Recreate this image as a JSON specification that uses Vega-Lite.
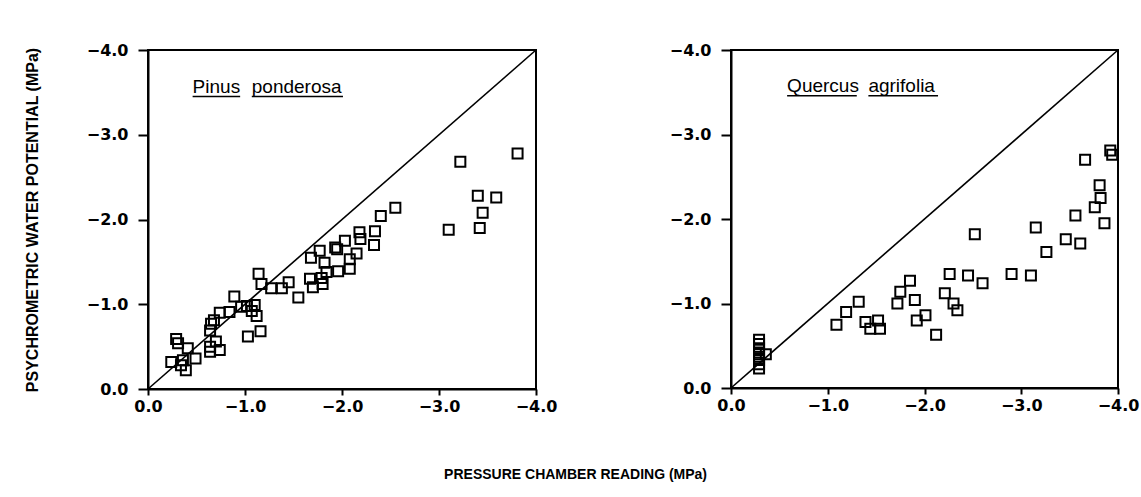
{
  "$schema": "https://vega.github.io/schema/vega-lite/v6.json",
  "background": "white",
  "padding": {"left": 23, "top": 41, "right": 0, "bottom": 5},
  "spacing": 110,
  "title": {"text": "PRESSURE CHAMBER READING (MPa)", "orient": "bottom", "anchor": "middle", "offset": 53, "dx": -6, "font": "Liberation Sans", "fontWeight": "bold", "fontSize": 14, "color": "black"},
  "datasets": {
    "diag": [{"x": 0, "y": 0}, {"x": -4, "y": -4}],
    "pinus": [
      {"x": -3.81, "y": -2.78}, {"x": -3.22, "y": -2.68}, {"x": -3.40, "y": -2.28}, {"x": -3.59, "y": -2.26},
      {"x": -3.45, "y": -2.08}, {"x": -3.42, "y": -1.90}, {"x": -3.10, "y": -1.88}, {"x": -2.55, "y": -2.14},
      {"x": -2.40, "y": -2.04}, {"x": -2.34, "y": -1.86}, {"x": -2.33, "y": -1.70}, {"x": -2.18, "y": -1.85},
      {"x": -2.19, "y": -1.77}, {"x": -2.15, "y": -1.60}, {"x": -2.03, "y": -1.75}, {"x": -2.08, "y": -1.53},
      {"x": -2.08, "y": -1.42}, {"x": -1.93, "y": -1.67}, {"x": -1.95, "y": -1.65}, {"x": -1.77, "y": -1.63},
      {"x": -1.68, "y": -1.55}, {"x": -1.82, "y": -1.49}, {"x": -1.96, "y": -1.39}, {"x": -1.84, "y": -1.38},
      {"x": -1.79, "y": -1.31}, {"x": -1.67, "y": -1.30}, {"x": -1.70, "y": -1.20}, {"x": -1.80, "y": -1.24},
      {"x": -1.55, "y": -1.08}, {"x": -1.45, "y": -1.26}, {"x": -1.38, "y": -1.19}, {"x": -1.27, "y": -1.19},
      {"x": -1.14, "y": -1.36}, {"x": -1.17, "y": -1.24}, {"x": -0.89, "y": -1.09}, {"x": -0.84, "y": -0.91},
      {"x": -0.74, "y": -0.90}, {"x": -0.96, "y": -0.97}, {"x": -1.02, "y": -0.98}, {"x": -1.10, "y": -0.99},
      {"x": -1.07, "y": -0.92}, {"x": -1.12, "y": -0.86}, {"x": -1.16, "y": -0.68}, {"x": -1.03, "y": -0.62},
      {"x": -0.65, "y": -0.77}, {"x": -0.68, "y": -0.81}, {"x": -0.64, "y": -0.69}, {"x": -0.70, "y": -0.56},
      {"x": -0.74, "y": -0.46}, {"x": -0.64, "y": -0.44}, {"x": -0.64, "y": -0.50}, {"x": -0.29, "y": -0.59},
      {"x": -0.31, "y": -0.54}, {"x": -0.41, "y": -0.48}, {"x": -0.49, "y": -0.36}, {"x": -0.24, "y": -0.32},
      {"x": -0.34, "y": -0.28}, {"x": -0.39, "y": -0.22}, {"x": -0.36, "y": -0.34}
    ],
    "quercus": [
      {"x": -3.92, "y": -2.81}, {"x": -3.94, "y": -2.76}, {"x": -3.66, "y": -2.70}, {"x": -3.81, "y": -2.40},
      {"x": -3.82, "y": -2.25}, {"x": -3.76, "y": -2.14}, {"x": -3.86, "y": -1.95}, {"x": -3.56, "y": -2.04},
      {"x": -3.46, "y": -1.76}, {"x": -3.61, "y": -1.71}, {"x": -3.15, "y": -1.90}, {"x": -3.26, "y": -1.61},
      {"x": -3.10, "y": -1.33}, {"x": -2.90, "y": -1.35}, {"x": -2.52, "y": -1.82}, {"x": -2.26, "y": -1.35},
      {"x": -2.45, "y": -1.33}, {"x": -2.60, "y": -1.24}, {"x": -2.21, "y": -1.12}, {"x": -2.30, "y": -1.00},
      {"x": -2.34, "y": -0.92}, {"x": -2.12, "y": -0.63}, {"x": -2.01, "y": -0.86}, {"x": -1.92, "y": -0.80},
      {"x": -1.90, "y": -1.04}, {"x": -1.85, "y": -1.27}, {"x": -1.75, "y": -1.14}, {"x": -1.72, "y": -1.00},
      {"x": -1.52, "y": -0.80}, {"x": -1.54, "y": -0.70}, {"x": -1.44, "y": -0.70}, {"x": -1.39, "y": -0.78},
      {"x": -1.32, "y": -1.02}, {"x": -1.19, "y": -0.90}, {"x": -1.09, "y": -0.75},
      {"x": -0.29, "y": -0.57}, {"x": -0.29, "y": -0.52}, {"x": -0.29, "y": -0.47}, {"x": -0.29, "y": -0.42},
      {"x": -0.29, "y": -0.37}, {"x": -0.29, "y": -0.33}, {"x": -0.29, "y": -0.28}, {"x": -0.29, "y": -0.23},
      {"x": -0.36, "y": -0.40}
    ],
    "words": [
      {"panel": "P", "word": "Pinus", "x": -0.46, "y": -3.49},
      {"panel": "P", "word": "ponderosa", "x": -1.07, "y": -3.49},
      {"panel": "Q", "word": "Quercus", "x": -0.58, "y": -3.50},
      {"panel": "Q", "word": "agrifolia", "x": -1.42, "y": -3.50}
    ],
    "lines": [
      {"panel": "P", "x": -0.46, "x2": -0.95, "y": -3.45},
      {"panel": "P", "x": -1.07, "x2": -2.01, "y": -3.45},
      {"panel": "Q", "x": -0.58, "x2": -1.30, "y": -3.46},
      {"panel": "Q", "x": -1.42, "x2": -2.14, "y": -3.46}
    ]
  },
  "hconcat": [
    {
      "width": 388,
      "height": 339,
      "encoding": {
        "x": {"field": "x", "type": "quantitative", "scale": {"domain": [0, -4], "nice": false, "zero": false}, "axis": {"values": [0, -1, -2, -3, -4], "format": ".1f", "title": null}},
        "y": {"field": "y", "type": "quantitative", "scale": {"domain": [0, -4], "nice": false, "zero": false}, "axis": {"values": [0, -1, -2, -3, -4], "format": ".1f", "title": "PSYCHROMETRIC WATER POTENTIAL (MPa)", "titlePadding": 46, "titleFontSize": 16}}
      },
      "layer": [
        {"data": {"name": "diag"}, "mark": {"type": "line", "color": "black", "strokeWidth": 1.6}},
        {"data": {"name": "pinus"}, "mark": {"type": "point", "shape": "square", "filled": false, "size": 100, "strokeWidth": 2, "color": "black", "opacity": 1}},
        {"data": {"name": "words"}, "transform": [{"filter": "datum.panel == 'P'"}], "mark": {"type": "text", "align": "left", "baseline": "alphabetic", "font": "Liberation Sans", "fontSize": 19, "color": "black"}, "encoding": {"text": {"field": "word"}}},
        {"data": {"name": "lines"}, "transform": [{"filter": "datum.panel == 'P'"}], "mark": {"type": "rule", "color": "black", "strokeWidth": 1.5}, "encoding": {"x2": {"field": "x2"}}}
      ]
    },
    {
      "width": 387,
      "height": 338,
      "encoding": {
        "x": {"field": "x", "type": "quantitative", "scale": {"domain": [0, -4], "nice": false, "zero": false}, "axis": {"values": [0, -1, -2, -3, -4], "format": ".1f", "title": null}},
        "y": {"field": "y", "type": "quantitative", "scale": {"domain": [0, -4], "nice": false, "zero": false}, "axis": {"values": [0, -1, -2, -3, -4], "format": ".1f", "title": null}}
      },
      "layer": [
        {"data": {"name": "diag"}, "mark": {"type": "line", "color": "black", "strokeWidth": 1.6}},
        {"data": {"name": "quercus"}, "mark": {"type": "point", "shape": "square", "filled": false, "size": 100, "strokeWidth": 2, "color": "black", "opacity": 1}},
        {"data": {"name": "words"}, "transform": [{"filter": "datum.panel == 'Q'"}], "mark": {"type": "text", "align": "left", "baseline": "alphabetic", "font": "Liberation Sans", "fontSize": 19, "color": "black"}, "encoding": {"text": {"field": "word"}}},
        {"data": {"name": "lines"}, "transform": [{"filter": "datum.panel == 'Q'"}], "mark": {"type": "rule", "color": "black", "strokeWidth": 1.5}, "encoding": {"x2": {"field": "x2"}}}
      ]
    }
  ],
  "config": {
    "view": {"stroke": "black", "strokeWidth": 2},
    "axis": {"grid": false, "domainColor": "black", "domainWidth": 2, "tickColor": "black", "tickWidth": 2, "labelFont": "DejaVu Sans", "labelFontWeight": "bold", "labelFontSize": 16, "labelColor": "black", "labelFlush": false, "titleFont": "Liberation Sans", "titleFontWeight": "bold", "titleColor": "black"},
    "axisX": {"tickSize": 6, "labelPadding": 3},
    "axisY": {"tickSize": 10, "labelPadding": 10}
  }
}
